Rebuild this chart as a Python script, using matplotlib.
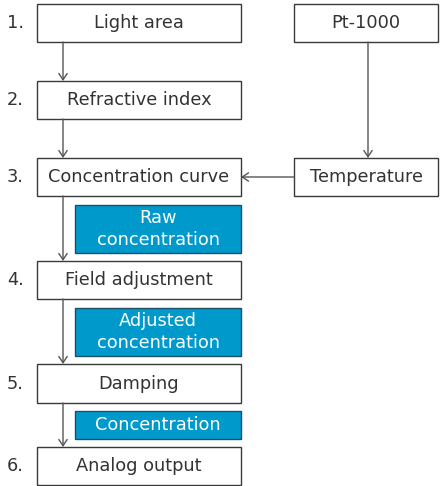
import matplotlib.pyplot as plt
from matplotlib.patches import Rectangle

plt.rcParams['font.family'] = ['DejaVu Sans']

# step boxes (left column)
steps = ["Light area", "Refractive index", "Concentration curve",
         "Field adjustment", "Damping", "Analog output"]
step_nums = ["1.", "2.", "3.", "4.", "5.", "6."]
step_top = [4, 81, 158, 261, 364, 447]
step_bot = [42, 119, 196, 299, 403, 485]

# side boxes (right column)
side = ["Pt-1000", "Temperature"]
side_top = [4, 158]
side_bot = [42, 196]

# signal labels (blue)
signals = ["Raw\nconcentration", "Adjusted\nconcentration", "Concentration"]
sig_top = [205, 308, 411]
sig_bot = [253, 356, 439]

EDGE = "#3a3a3a"
TXT = "#333333"
BLUE = "#0099cc"
LINE = "#555555"
FS = 12.8

fig = plt.figure(figsize=(4.4, 4.86), dpi=100)
ax = fig.add_axes([0, 0, 1, 1])
ax.set_xlim(0, 440)
ax.set_ylim(486, 0)
ax.axis("off")

lx0, lx1 = 37, 241
rx0, rx1 = 294, 438
bx0 = 75
vx = 63

for name, num, t, b in zip(steps, step_nums, step_top, step_bot):
    ax.add_patch(Rectangle((lx0, t), lx1 - lx0, b - t, facecolor="white",
                           edgecolor=EDGE, linewidth=1))
    ax.text((lx0 + lx1) / 2, (t + b) / 2, name, ha="center", va="center",
            fontsize=FS, color=TXT)
    ax.text(7, (t + b) / 2, num, ha="left", va="center", fontsize=FS, color=TXT)

for name, t, b in zip(side, side_top, side_bot):
    ax.add_patch(Rectangle((rx0, t), rx1 - rx0, b - t, facecolor="white",
                           edgecolor=EDGE, linewidth=1))
    ax.text((rx0 + rx1) / 2, (t + b) / 2, name, ha="center", va="center",
            fontsize=FS, color=TXT)

for name, t, b in zip(signals, sig_top, sig_bot):
    ax.add_patch(Rectangle((bx0, t), lx1 - bx0, b - t, facecolor=BLUE,
                           edgecolor="#1f4f66", linewidth=1))
    ax.text((bx0 + lx1) / 2, (t + b) / 2, name, ha="center", va="center",
            fontsize=FS, color="white", linespacing=1.35)

arrow = dict(arrowstyle="->,head_length=0.45,head_width=0.3", color=LINE,
             linewidth=1, shrinkA=0, shrinkB=0)

# vertical arrows between steps
for i in range(len(steps) - 1):
    ax.annotate("", xy=(vx, step_top[i + 1]), xytext=(vx, step_bot[i]),
                arrowprops=arrow)

# Pt-1000 -> Temperature
rvx = (rx0 + rx1) / 2 + 2
ax.annotate("", xy=(rvx, side_top[1]), xytext=(rvx, side_bot[0]), arrowprops=arrow)

# Temperature -> Concentration curve
hy = (side_top[1] + side_bot[1]) / 2
ax.annotate("", xy=(lx1, hy), xytext=(rx0, hy), arrowprops=arrow)

fig.savefig("out.png", dpi=100)
